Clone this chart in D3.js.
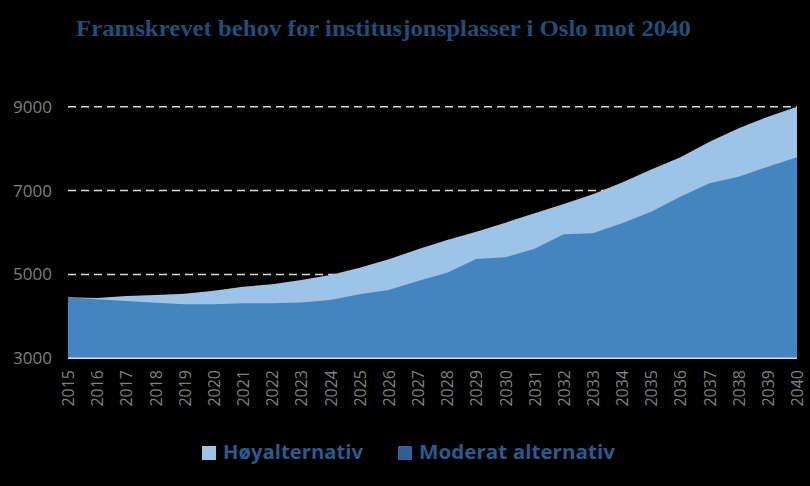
<!DOCTYPE html>
<html><head><meta charset="utf-8">
<script src="https://cdn.jsdelivr.net/npm/d3@7"></script>
<style>body{margin:0;background:#000}svg{display:block}</style>
</head><body>
<svg id="c" width="810" height="486"></svg>
<script>
const years = [2015,2016,2017,2018,2019,2020,2021,2022,2023,2024,2025,2026,2027,2028,2029,2030,2031,2032,2033,2034,2035,2036,2037,2038,2039,2040];
const hoy = [4455,4440,4485,4510,4540,4612,4705,4765,4867,4987,5160,5360,5600,5820,6020,6235,6460,6680,6910,7190,7505,7795,8165,8485,8760,9000];
const moderat = [4455,4407,4367,4326,4290,4288,4312,4312,4330,4390,4526,4630,4843,5040,5368,5408,5614,5957,5981,6220,6497,6854,7173,7331,7570,7794];
const yTicks = [3000,5000,7000,9000];
const seriesNames = ["Høyalternativ","Moderat alternativ"];
const title = "Framskrevet behov for institusjonsplasser i Oslo mot 2040";

const svg = d3.select("#c");
svg.append("rect").attr("width",810).attr("height",486).attr("fill","#000");
const x = d3.scaleLinear().domain([2015,2040]).range([68,797]);
const y = d3.scaleLinear().domain([3000,9000]).range([358.3,106.7]);

// grid
svg.append("g").selectAll("line").data(yTicks.filter(d=>d>3000)).join("line")
  .attr("x1",68).attr("x2",797).attr("y1",d=>y(d)).attr("y2",d=>y(d))
  .attr("stroke","#d9d9d9").attr("stroke-width",1.5).attr("stroke-dasharray","8,5");

const areaH = d3.area().x((d,i)=>x(years[i])).y0(y(3000)).y1(d=>y(d));
svg.append("path").datum(hoy).attr("d",areaH).attr("fill","#9dc3e6");
svg.append("path").datum(moderat).attr("d",areaH).attr("fill","#4484c0");

// baseline
svg.append("line").attr("x1",68).attr("x2",797).attr("y1",y(3000)).attr("y2",y(3000))
  .attr("stroke","#d9d9d9").attr("stroke-width",1.5);

// y axis labels
const yAxis = d3.axisLeft(y).tickValues(yTicks).tickFormat(d3.format("d")).tickSize(0).tickPadding(0);
const gy = svg.append("g").attr("transform","translate(52,0)").call(yAxis);
gy.select(".domain").remove();
gy.selectAll("text").attr("fill","#7f7f7f").attr("font-family","Open Sans, sans-serif").attr("font-size",17);

// x axis labels
const xAxis = d3.axisBottom(x).tickValues(years).tickFormat(d3.format("d")).tickSize(0).tickPadding(0);
const gx = svg.append("g").attr("transform","translate(0,370)").call(xAxis);
gx.select(".domain").remove();
gx.selectAll("text").attr("fill","#7f7f7f").attr("font-family","Open Sans, sans-serif").attr("font-size",16)
  .attr("transform","rotate(-90)").attr("text-anchor","end").attr("dy","0.35em").attr("x",0).attr("y",0);

// title
svg.append("text").attr("x",76).attr("y",36).text(title)
  .attr("font-family","Liberation Serif, serif").attr("font-weight","bold").attr("font-size",24)
  .attr("fill","#1f4e79").attr("textLength",615).attr("lengthAdjust","spacingAndGlyphs");

// legend
const leg = [{n:seriesNames[0],c:"#9dc3e6",sx:202,tx:223,w:140},{n:seriesNames[1],c:"#2e6196",sx:398,tx:419,w:196}];
const lg = svg.append("g").selectAll("g").data(leg).join("g");
lg.append("rect").attr("x",d=>d.sx).attr("y",446).attr("width",14).attr("height",14).attr("fill",d=>d.c);
lg.append("text").attr("x",d=>d.tx).attr("y",459).text(d=>d.n)
  .attr("font-family","Open Sans, sans-serif").attr("font-weight","bold").attr("font-size",19)
  .attr("fill","#2b5a8c").attr("textLength",d=>d.w).attr("lengthAdjust","spacingAndGlyphs");
</script>
</body></html>
